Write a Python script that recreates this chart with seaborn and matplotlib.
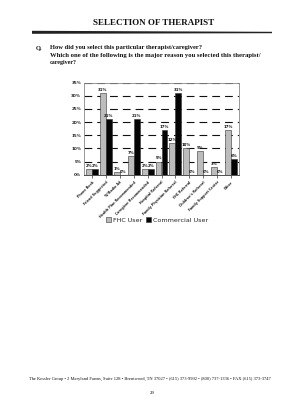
import matplotlib
matplotlib.use("Agg")
import matplotlib.pyplot as plt
import seaborn as sns
import pandas as pd
from matplotlib.patches import Patch, Polygon

categories = ["Phone Book", "Friend Suggested", "TV/Radio Ad", "Health Plan Recommended",
              "Caregiver Recommended", "Hospital Referral", "Family Physician Referral",
              "FHC Referral", "Children's Referral", "Family Support Center", "Other"]
fhc_user = [2, 31, 1, 7, 2, 5, 12, 10, 9, 3, 17]
commercial_user = [2, 21, 0, 21, 2, 17, 31, 0, 0, 0, 6]
series_names = ["FHC User", "Commercial User"]
y_ticks = [0, 5, 10, 15, 20, 25, 30, 35]

title = "SELECTION OF THERAPIST"
question_lines = ["How did you select this particular therapist/caregiver?",
                  "Which one of the following is the major reason you selected this therapist/",
                  "caregiver?"]
footer = ("The Kessler Group \u2022 2 Maryland Farms, Suite 128 \u2022 Brentwood, TN 37027 \u2022 "
          "(615) 373-9992 \u2022 (800) 737-1336 \u2022 FAX (615) 373-3747")
page_no = "29"

df = pd.DataFrame({
    "cat": categories * 2,
    "val": fhc_user + commercial_user,
    "user": [series_names[0]] * len(categories) + [series_names[1]] * len(categories),
})

sns.set_theme(style="white")
plt.rcParams["font.family"] = ["DejaVu Sans"]

W, H = 304, 400
fig = plt.figure(figsize=(W / 100, H / 100), dpi=100)
fig.patch.set_facecolor("white")


def fit_text(x, y, s, target_w, ha="left", **kw):
    t = fig.text(x / W, 1 - y / H, s, ha=ha, va="center", **kw)
    fig.canvas.draw()
    w = t.get_window_extent().width
    t.set_fontsize(t.get_fontsize() * target_w / w)
    return t


serif = ["Liberation Serif", "DejaVu Serif"]
fit_text(154, 23, title, 122, ha="center", fontsize=8, fontweight="bold", family=serif, color="#111")

# rule under title (tapering)
poly = Polygon([(32 / W, 1 - 30.8 / H), (272 / W, 1 - 31.8 / H), (272 / W, 1 - 33.2 / H), (32 / W, 1 - 33.8 / H)],
               closed=True, transform=fig.transFigure, facecolor="#222", edgecolor="none")
fig.patches.append(poly)

fig.text(36 / W, 1 - 47.5 / H, "Q.", ha="left", va="center", fontsize=4.6, fontweight="bold",
         family=serif, color="#111")
fit_text(50, 47.5, question_lines[0], 152, fontsize=4.6, fontweight="bold", family=serif, color="#111")
fit_text(50, 55.3, question_lines[1], 207, fontsize=4.6, fontweight="bold", family=serif, color="#111")
fit_text(50, 62.8, question_lines[2], 27, fontsize=4.6, fontweight="bold", family=serif, color="#111")

# chart
ax = fig.add_axes([84 / W, 1 - 174.7 / H, (239 - 84) / W, (174.7 - 82.7) / H])
sns.barplot(data=df, x="cat", y="val", hue="user", palette=["#bcbcbc", "#050505"],
            edgecolor="#333333", linewidth=0.4, width=0.86, ax=ax, legend=False,
            saturation=1)
ax.set_xlim(-0.57, len(categories) - 0.43)
ax.set_ylim(0, 35)
ax.set_yticks(y_ticks)
ax.set_yticklabels([f"{v}%" for v in y_ticks], fontsize=3, fontweight="bold")
ax.set_axisbelow(True)
ax.yaxis.grid(True, color="#111", linewidth=0.8, linestyle=(0, (7, 4.5)))
ax.xaxis.grid(False)
ax.set_xlabel("")
ax.set_ylabel("")
ax.set_xticks(range(len(categories)))
ax.set_xticklabels(categories, rotation=45, ha="right", rotation_mode="anchor",
                   fontsize=2.3, fontweight="bold")
ax.tick_params(axis="x", length=2, width=0.5, pad=2, bottom=True, color="#333")
ax.tick_params(axis="y", length=0, pad=2)
for sp in ax.spines.values():
    sp.set_color("#888")
    sp.set_linewidth(0.6)
ax.spines["bottom"].set_color("#333")

for cont in ax.containers:
    ax.bar_label(cont, fmt="%.0f%%", fontsize=2.8, fontweight="bold", padding=0.8, color="#111")

handles = [Patch(facecolor="#bcbcbc", edgecolor="#333", linewidth=0.4),
           Patch(facecolor="#050505", edgecolor="#333", linewidth=0.4)]
ax.legend(handles, series_names, loc="center", bbox_to_anchor=(157 / W, 1 - 220 / H),
          bbox_transform=fig.transFigure, frameon=False, fontsize=4.6, ncol=2,
          handlelength=0.8, handleheight=0.8, handletextpad=0.3, columnspacing=0.6)

fit_text(150, 379, footer, 235, ha="center", fontsize=3, family=serif, color="#111")
fig.text(152 / W, 1 - 393 / H, page_no, ha="center", va="center", fontsize=3.5, family=serif, color="#111")

fig.savefig("out.png", dpi=100)
